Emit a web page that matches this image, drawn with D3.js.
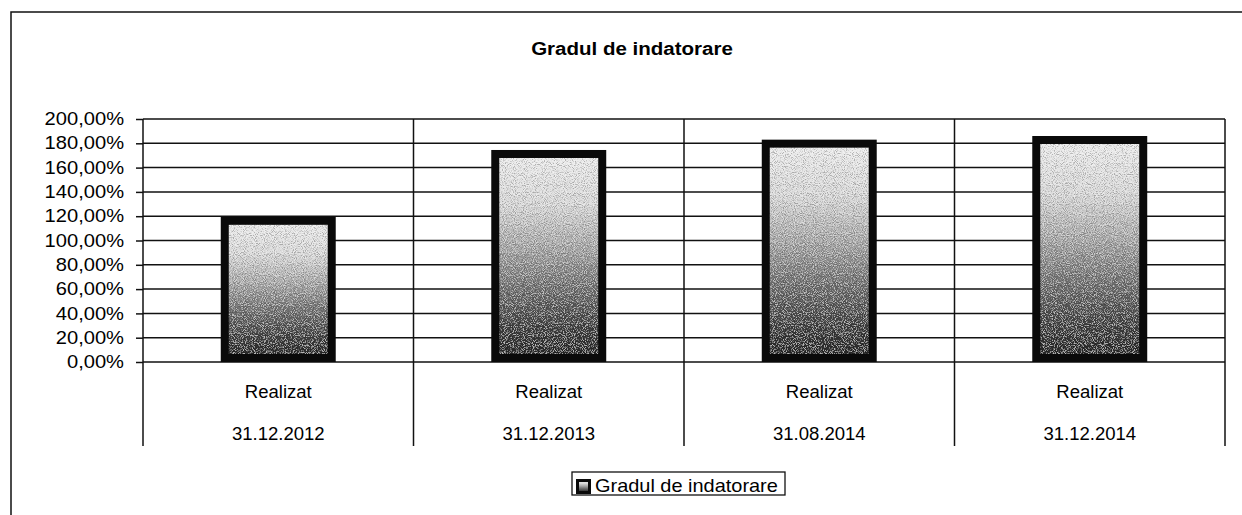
<!DOCTYPE html>
<html>
<head>
<meta charset="utf-8">
<script src="https://cdn.jsdelivr.net/npm/d3@7"></script>
<style>
  html, body { margin: 0; padding: 0; background: #fff; }
  svg { display: block; font-family: Arial, "Liberation Sans", sans-serif; }
</style>
</head>
<body>
<svg id="chart" width="1242" height="515"></svg>
<script>
// ---- data ----
const title = "Gradul de indatorare";
const seriesName = "Gradul de indatorare";
const catLevel1 = ["Realizat", "Realizat", "Realizat", "Realizat"];
const catLevel2 = ["31.12.2012", "31.12.2013", "31.08.2014", "31.12.2014"];
const values = [119.5, 174.5, 183, 186];
const yTicks = [0, 20, 40, 60, 80, 100, 120, 140, 160, 180, 200];

// ---- layout ----
const W = 1242, H = 515;
const plot = { left: 143, right: 1225, top: 119, bottom: 362 };
const catLineBottom = 446;

const svg = d3.select("#chart");
const keys = catLevel2.map((d, i) => i);

const locale = d3.formatLocale({ decimal: ",", thousands: ".", grouping: [3], currency: ["", ""] });
const fmt = v => locale.format(".2f")(v) + "%";

const y = d3.scaleLinear().domain([0, 200]).range([plot.bottom, plot.top]);
const xCat = d3.scaleBand().domain(keys).range([plot.left, plot.right]).padding(0);
const xBar = d3.scaleBand().domain(keys).range([plot.left, plot.right])
  .paddingInner(0.575).paddingOuter(0.2875);

// gradient
const defs = svg.append("defs");
const grad = defs.append("linearGradient").attr("id", "barGrad")
  .attr("x1", 0).attr("y1", 0).attr("x2", 0).attr("y2", 1);
[[0, "#ececec"], [0.25, "#d8d8d8"], [0.45, "#aaaaaa"], [0.65, "#737373"], [0.85, "#404040"], [1, "#262626"]]
  .forEach(([o, c]) => grad.append("stop").attr("offset", o).attr("stop-color", c));

// grain filter to mimic the dithered print
const f = defs.append("filter").attr("id", "grain")
  .attr("x", 0).attr("y", 0).attr("width", 1).attr("height", 1);
f.append("feTurbulence").attr("type", "fractalNoise").attr("baseFrequency", 1.1)
  .attr("numOctaves", 1).attr("seed", 7).attr("result", "noise");
f.append("feColorMatrix").attr("in", "noise").attr("type", "matrix")
  .attr("values", "2.6 0 0 0 -0.8  2.6 0 0 0 -0.8  2.6 0 0 0 -0.8  0 0 0 0 1")
  .attr("result", "gn");
f.append("feBlend").attr("in", "gn").attr("in2", "SourceGraphic").attr("mode", "hard-light").attr("result", "bl");
f.append("feComposite").attr("in", "bl").attr("in2", "SourceGraphic")
  .attr("operator", "arithmetic").attr("k1", 0).attr("k2", 0.45).attr("k3", 0.55).attr("k4", 0).attr("result", "mix");
f.append("feComposite").attr("in", "mix").attr("in2", "SourceGraphic").attr("operator", "in");

// outer chart border (right/bottom edges off-canvas)
svg.append("rect").attr("x", 11).attr("y", 12).attr("width", W + 20).attr("height", H + 20)
  .attr("fill", "none").attr("stroke", "#111").attr("stroke-width", 1.5);

// title
svg.append("text")
  .attr("transform", `translate(632,55) scale(1.08,1)`)
  .attr("text-anchor", "middle")
  .attr("font-size", 19).attr("font-weight", "bold").attr("fill", "#000")
  .text(title);

// horizontal gridlines
svg.append("g").selectAll("line").data(yTicks).join("line")
  .attr("x1", plot.left).attr("x2", plot.right)
  .attr("y1", d => y(d)).attr("y2", d => y(d))
  .attr("stroke", "#111").attr("stroke-width", 1.5);

// vertical category lines (incl. axis and right edge)
const vx = keys.map(k => xCat(k)).concat([plot.right]);
svg.append("g").selectAll("line").data(vx).join("line")
  .attr("x1", d => d).attr("x2", d => d)
  .attr("y1", plot.top).attr("y2", catLineBottom)
  .attr("stroke", "#111").attr("stroke-width", 1.5);

// y axis
const tickSize = 7, sx = 1.15;
const yAxis = d3.axisLeft(y).tickValues(yTicks).tickFormat(fmt)
  .tickSize(tickSize).tickPadding(19 / sx - tickSize);
const gy = svg.append("g").attr("transform", `translate(${plot.left},0)`).call(yAxis);
gy.select(".domain").remove();
gy.selectAll(".tick line").attr("stroke", "#111").attr("stroke-width", 1.5);
gy.selectAll(".tick text")
  .attr("font-family", "Arial, 'Liberation Sans', sans-serif")
  .attr("font-size", 17.5).attr("fill", "#000")
  .attr("transform", `scale(${sx},1)`);

// bars
const sw = 8;
const gb = svg.append("g");
gb.selectAll("rect.fill").data(keys).join("rect").attr("class", "fill")
  .attr("x", k => xBar(k) + sw / 2)
  .attr("width", xBar.bandwidth() - sw)
  .attr("y", k => y(values[k]) + sw / 2)
  .attr("height", k => y(0) - y(values[k]) - sw)
  .attr("fill", "url(#barGrad)")
  .attr("filter", "url(#grain)");
gb.selectAll("rect.edge").data(keys).join("rect").attr("class", "edge")
  .attr("x", k => xBar(k) + sw / 2)
  .attr("width", xBar.bandwidth() - sw)
  .attr("y", k => y(values[k]) + sw / 2)
  .attr("height", k => y(0) - y(values[k]) - sw)
  .attr("fill", "none")
  .attr("stroke", "#0a0a0a").attr("stroke-width", sw);

// category labels (two levels)
const gx = svg.append("g");
gx.selectAll("text.l1").data(keys).join("text").attr("class", "l1")
  .attr("transform", k => `translate(${xCat(k) + xCat.bandwidth() / 2},398) scale(1.06,1)`)
  .attr("text-anchor", "middle").attr("font-size", 17.5).attr("fill", "#000")
  .text(k => catLevel1[k]);
gx.selectAll("text.l2").data(keys).join("text").attr("class", "l2")
  .attr("transform", k => `translate(${xCat(k) + xCat.bandwidth() / 2},440) scale(1.06,1)`)
  .attr("text-anchor", "middle").attr("font-size", 17.5).attr("fill", "#000")
  .text(k => catLevel2[k]);

// legend
const lg = svg.append("g");
lg.append("rect").attr("x", 572).attr("y", 472).attr("width", 213).attr("height", 23)
  .attr("fill", "#fff").attr("stroke", "#111").attr("stroke-width", 1.3);
lg.append("rect").attr("x", 577.5).attr("y", 480.5).attr("width", 12).attr("height", 12)
  .attr("fill", "url(#barGrad)").attr("stroke", "#0a0a0a").attr("stroke-width", 3);
lg.append("text")
  .attr("transform", `translate(595,492) scale(1.14,1)`)
  .attr("font-size", 17.5).attr("fill", "#000")
  .text(seriesName);
</script>
</body>
</html>
